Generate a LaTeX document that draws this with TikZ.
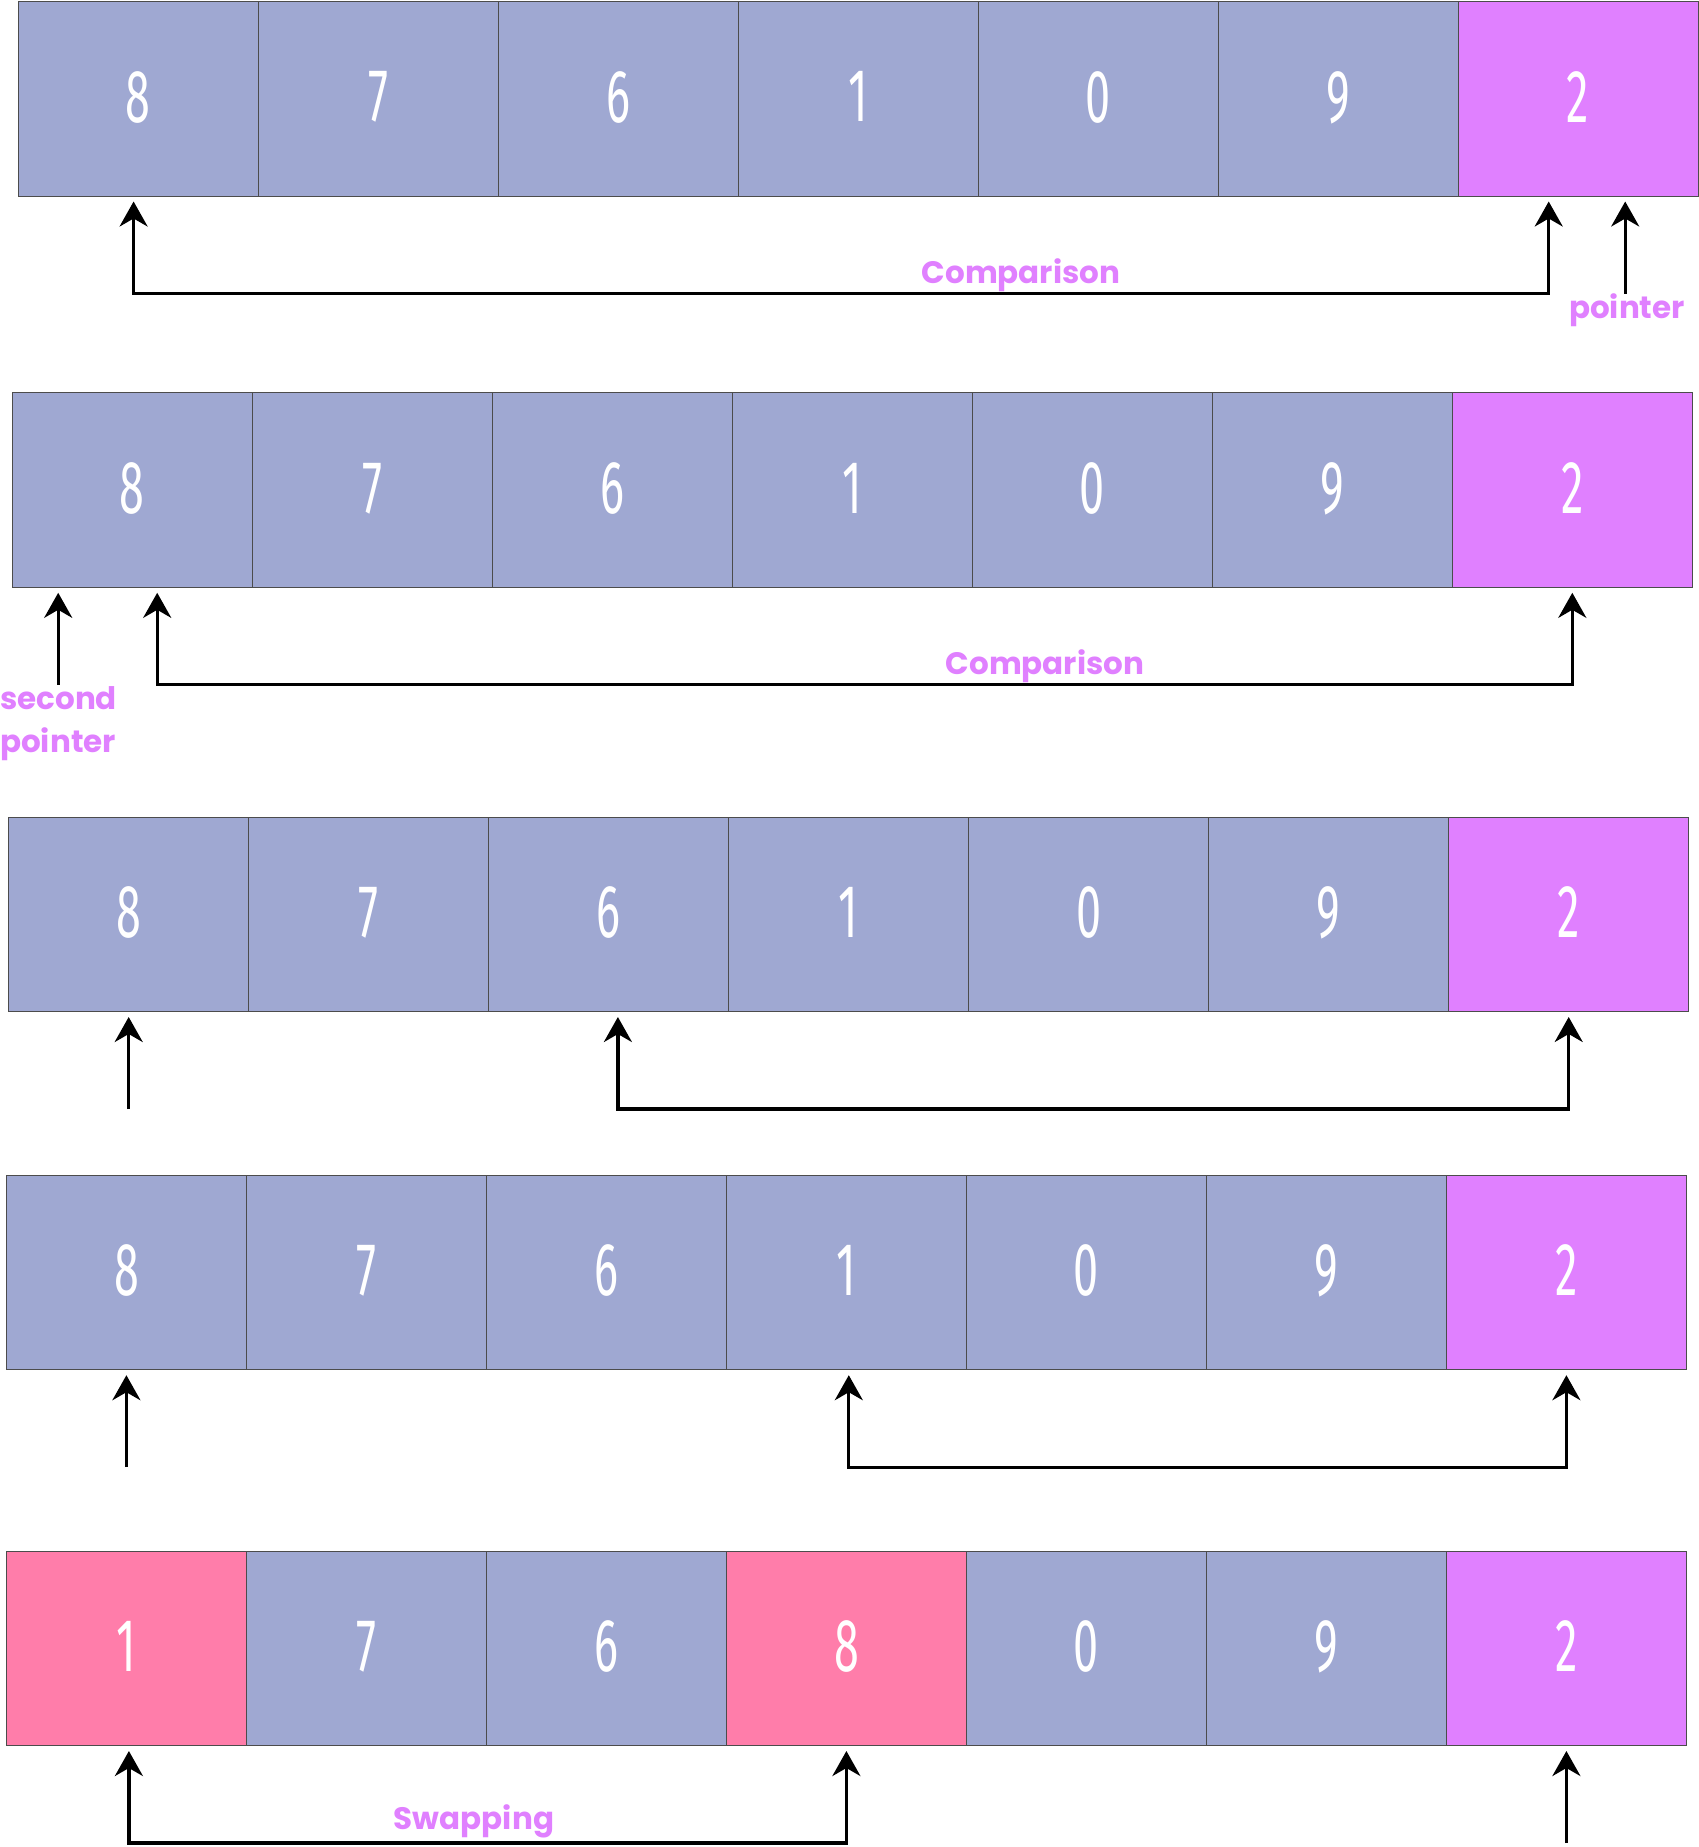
\documentclass[tikz,border=0pt]{standalone}
\usepackage{fontspec}
\usepackage{graphicx}
\usetikzlibrary{arrows.meta,calc}
\newfontfamily\lblfont{Poppins}
\newfontfamily\digitfont{Fira Sans}
\definecolor{cellblue}{RGB}{159,168,210}
\definecolor{cellmag}{RGB}{224,128,255}
\definecolor{cellpink}{RGB}{255,125,170}
\newcommand\celldigit[1]{\raisebox{4pt}{\scalebox{0.6}[1]{#1}}}
\begin{document}
\begin{tikzpicture}[x=1pt,y=-1pt,
  cell/.style={draw=black!70, line width=1pt, minimum width=240pt, minimum height=194.5pt,
    anchor=north west, inner sep=0pt, text=white, font=\digitfont\fontsize{75}{75}\selectfont},
  tipS/.tip={Stealth[length=25pt,width=28pt,inset=8pt]},
  conn/.style={line width=3.3pt, -tipS},
  brk/.style={line width=3.3pt, tipS-tipS},
  lbl/.style={text=cellmag, font=\lblfont\bfseries\fontsize{31}{43}\selectfont, inner sep=0pt}]
\fill[white, use as bounding box] (0,0) rectangle (1699,1847);

% row 1
\foreach \v/\c [count=\i] in {8/cellblue,7/cellblue,6/cellblue,1/cellblue,0/cellblue,9/cellblue,2/cellmag}
  \node[cell, fill=\c] (r1c\i) at ({17.5+(\i-1)*240},1) {\celldigit{\v}};
% row 2
\foreach \v/\c [count=\i] in {8/cellblue,7/cellblue,6/cellblue,1/cellblue,0/cellblue,9/cellblue,2/cellmag}
  \node[cell, fill=\c] (r2c\i) at ({11.8+(\i-1)*240},392.3) {\celldigit{\v}};
% row 3
\foreach \v/\c [count=\i] in {8/cellblue,7/cellblue,6/cellblue,1/cellblue,0/cellblue,9/cellblue,2/cellmag}
  \node[cell, fill=\c] (r3c\i) at ({8.2+(\i-1)*240},816.5) {\celldigit{\v}};
% row 4
\foreach \v/\c [count=\i] in {8/cellblue,7/cellblue,6/cellblue,1/cellblue,0/cellblue,9/cellblue,2/cellmag}
  \node[cell, fill=\c] (r4c\i) at ({5.9+(\i-1)*240},1174.7) {\celldigit{\v}};
% row 5
\foreach \v/\c [count=\i] in {1/cellpink,7/cellblue,6/cellblue,8/cellpink,0/cellblue,9/cellblue,2/cellmag}
  \node[cell, fill=\c] (r5c\i) at ({5.9+(\i-1)*240},1550.5) {\celldigit{\v}};

% tips
\coordinate (t1a) at ([xshift=-4.4pt,yshift=-5pt]r1c1.south);
\coordinate (t1b) at ([xshift=-29.3pt,yshift=-5pt]r1c7.south);
\coordinate (t1c) at ([xshift=47.2pt,yshift=-5pt]r1c7.south);
\coordinate (t2s) at ([xshift=-74.1pt,yshift=-5pt]r2c1.south);
\coordinate (t2a) at ([xshift=24.9pt,yshift=-5pt]r2c1.south);
\coordinate (t2b) at ([yshift=-5pt]r2c7.south);
\coordinate (t3s) at ([yshift=-5pt]r3c1.south);
\coordinate (t3a) at ([xshift=9.2pt,yshift=-5pt]r3c3.south);
\coordinate (t3b) at ([yshift=-5pt]r3c7.south);
\coordinate (t4s) at ([yshift=-5pt]r4c1.south);
\coordinate (t4a) at ([xshift=2.4pt,yshift=-5pt]r4c4.south);
\coordinate (t4b) at ([yshift=-5pt]r4c7.south);
\coordinate (t5a) at ([xshift=2.5pt,yshift=-5pt]r5c1.south);
\coordinate (t5b) at ([yshift=-5pt]r5c4.south);
\coordinate (t5s) at ([yshift=-5pt]r5c7.south);

% free ends
\coordinate (f1c) at ([yshift=-92pt]t1c);
\coordinate (f2s) at ([yshift=-92pt]t2s);
\coordinate (f3s) at ([yshift=-92pt]t3s);
\coordinate (f4s) at ([yshift=-92pt]t4s);
\coordinate (f5s) at ([yshift=-92pt]t5s);

% row 1 connectors
\draw[brk] (t1a) |- ([yshift=-92pt]t1b) -- (t1b);
\draw[conn] (f1c) -- (t1c);
\node[lbl] (cmp1) at (1021,275) {Comparison};
\node[lbl] (ptr1) at (1627,310) {pointer};

% row 2 connectors
\draw[conn] (f2s) -- (t2s);
\draw[brk] (t2a) |- ([yshift=-92pt]t2b) -- (t2b);
\node[lbl] (cmp2) at (1045,666) {Comparison};
\node[lbl, anchor=west, align=left] (ptr2) at (0,723.5) {second\\pointer};

% row 3 connectors
\draw[conn] (f3s) -- (t3s);
\draw[brk] (t3a) |- ([yshift=-92pt]t3b) -- (t3b);

% row 4 connectors
\draw[conn] (f4s) -- (t4s);
\draw[brk] (t4a) |- ([yshift=-92pt]t4b) -- (t4b);

% row 5 connectors
\draw[brk] (t5a) |- ([yshift=-92pt]t5b) -- (t5b);
\draw[conn] (f5s) -- (t5s);
\node[lbl] (swp) at (474,1821) {Swapping};
\end{tikzpicture}
\end{document}
